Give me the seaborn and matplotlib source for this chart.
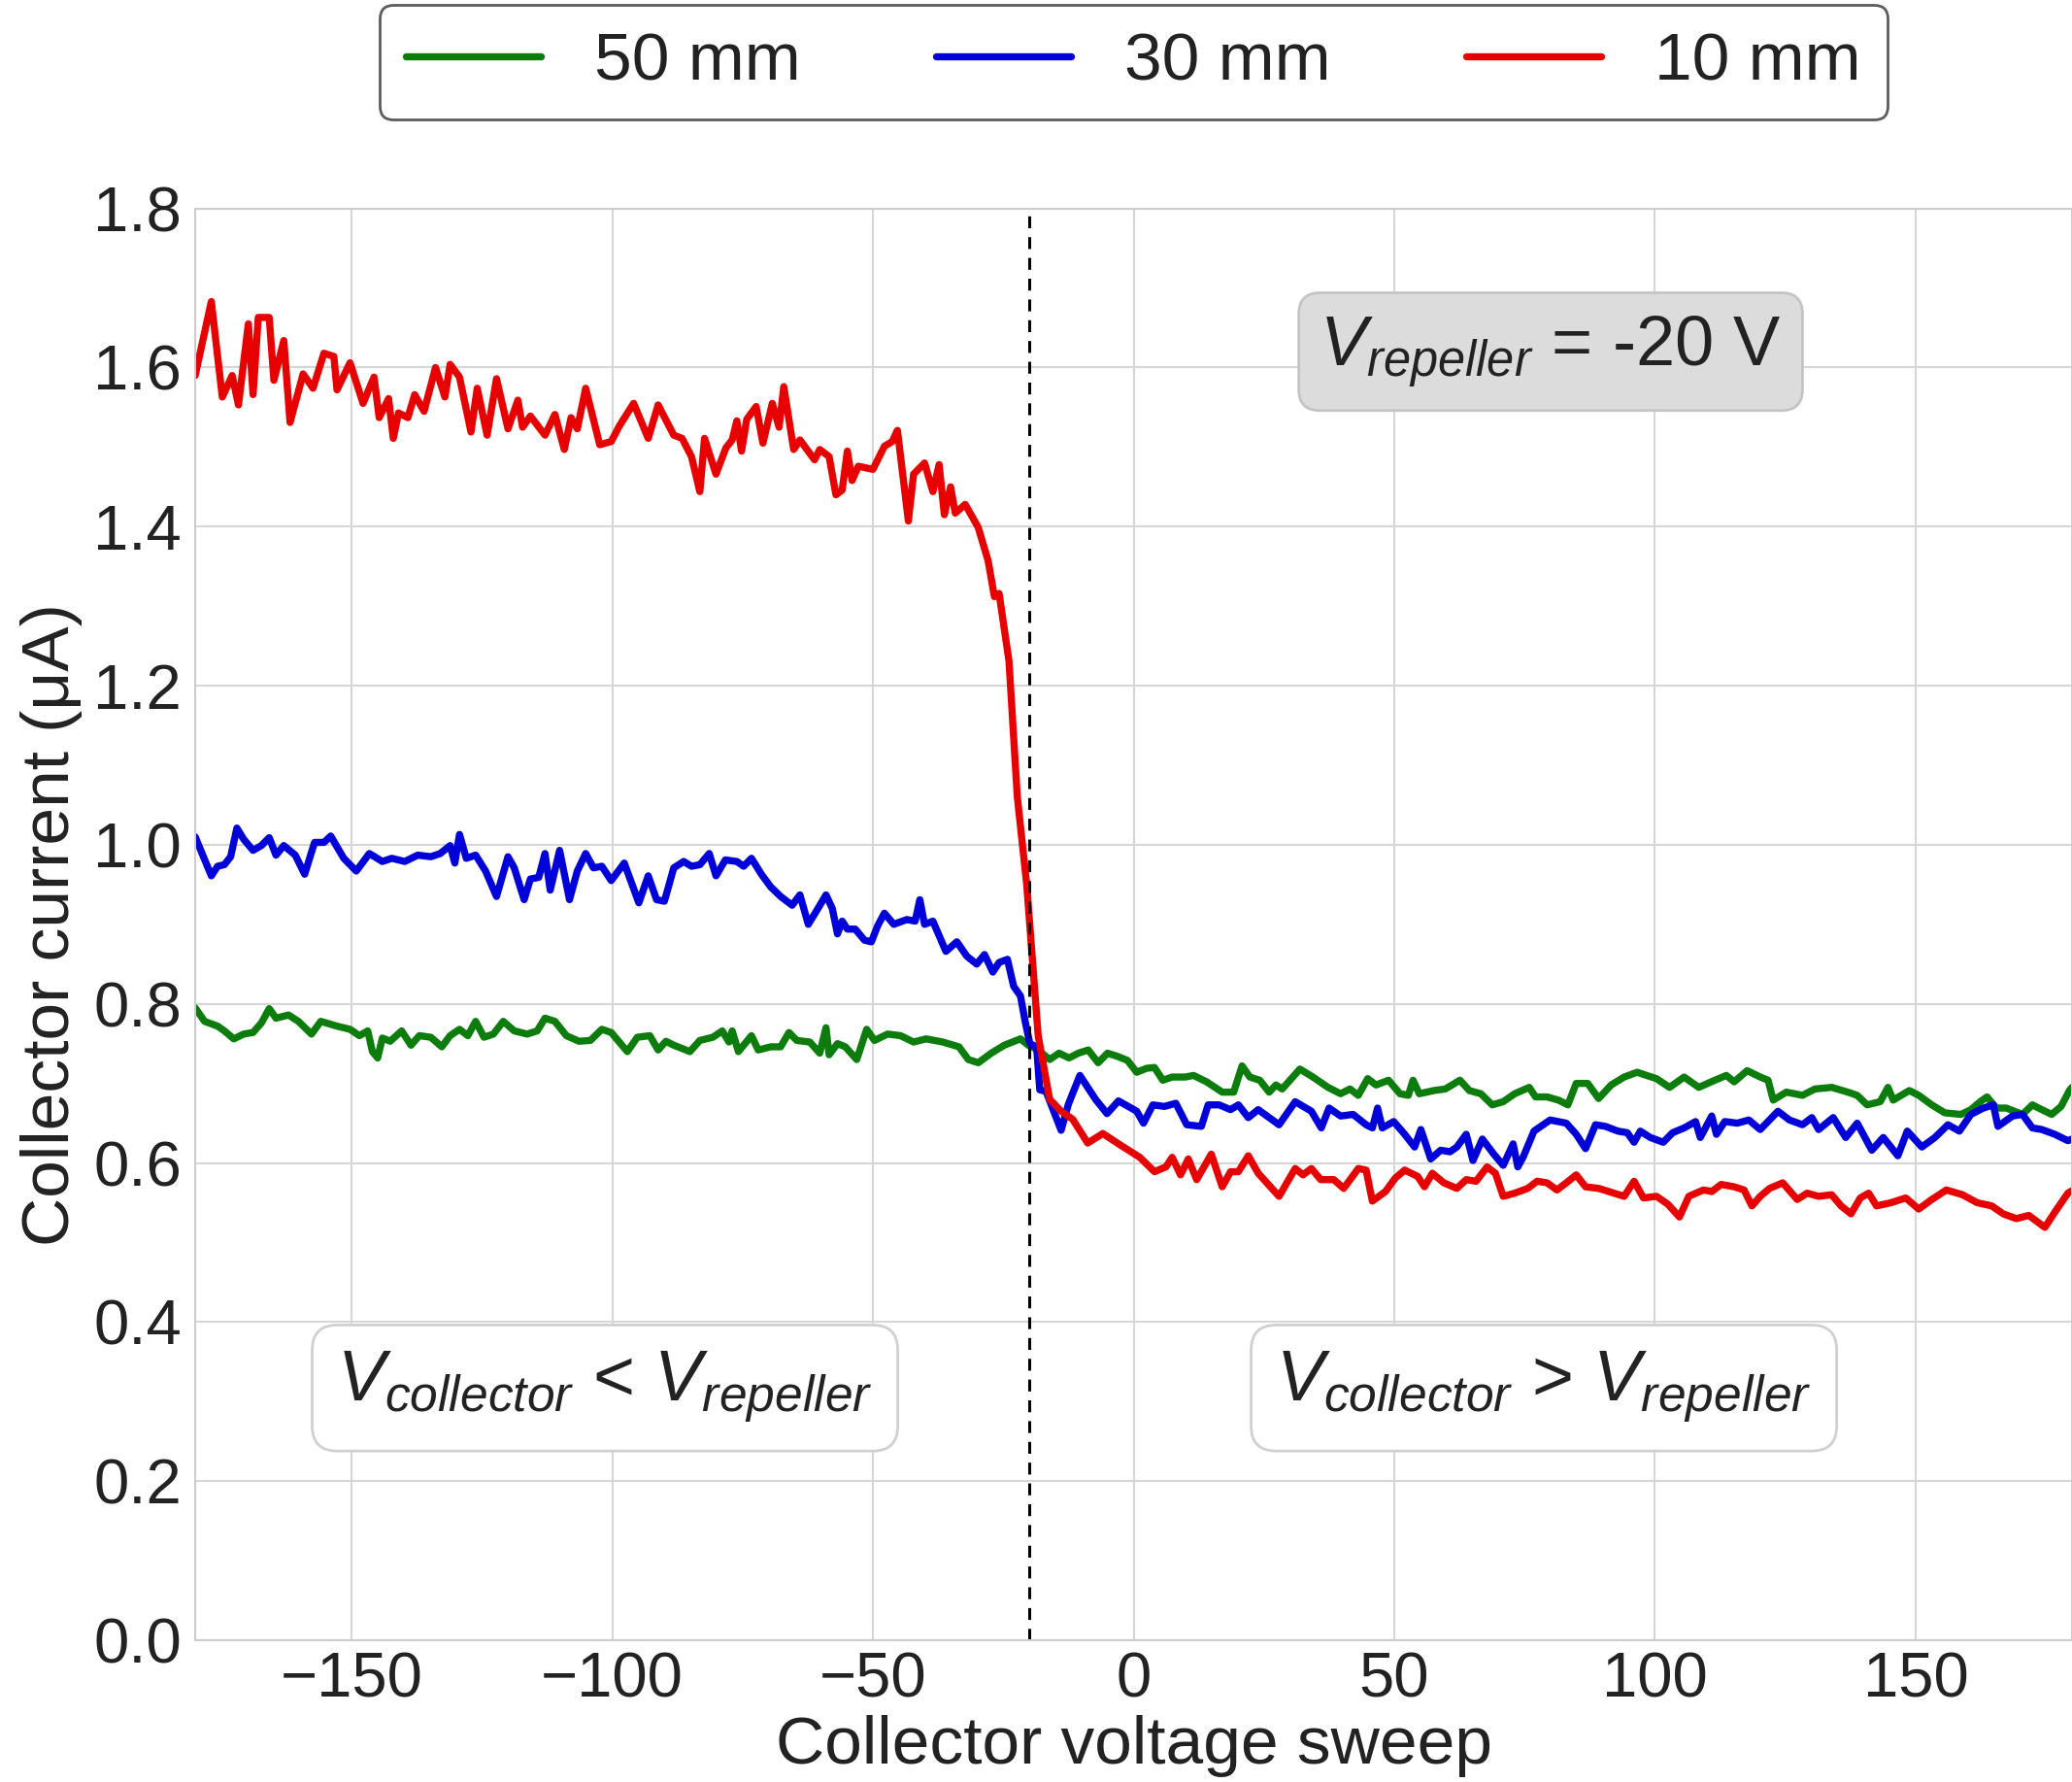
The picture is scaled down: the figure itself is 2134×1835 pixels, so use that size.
import matplotlib
matplotlib.use("Agg")
import matplotlib.pyplot as plt
import pandas as pd
import seaborn as sns


# red trace, 10 mm
x_10 = [-180, -176.9, -174.8, -172.9, -171.7, -169.8, -168.9, -167.9, -165.8, -164.9,
        -163.0, -161.8, -159.3, -157.4, -155.3, -153.4, -152.8, -150.3, -147.8, -145.7,
        -144.7, -142.9, -142.0, -141.0, -139.2, -137.9, -136.1, -133.9, -132.1, -131.1,
        -129.3, -127.1, -125.9, -124.0, -122.2, -120.0, -118.1, -117.2, -115.7, -112.9,
        -111.0, -109.2, -107.9, -106.7, -105.1, -102.4, -100.2, -98.6, -95.9, -93.1,
        -91.2, -88.2, -86.6, -84.8, -83.2, -82.3, -80.1, -78.2, -77.0, -76.1,
        -75.2, -74.2, -72.4, -71.1, -69.3, -68.0, -67.1, -65.2, -64.0, -61.2,
        -60.2, -58.4, -57.1, -55.9, -54.9, -54.0, -52.8, -50.0, -47.8, -46.3,
        -45.3, -43.2, -42.2, -40.1, -38.5, -37.3, -36.3, -35.1, -34.2, -32.3,
        -29.8, -27.9, -26.7, -25.8, -23.9, -22.3, -20.5, -18.3, -16.1, -13.9,
        -11.7, -8.8, -5.9, -2.9, 1.2, 4.0, 6.2, 7.4, 9.0, 10.5,
        12.1, 14.9, 17.0, 18.6, 20.1, 22.0, 23.9, 27.9, 31.0, 32.5,
        34.1, 35.9, 38.4, 40.3, 43.1, 44.6, 45.8, 48.3, 50.2, 52.0,
        54.5, 55.8, 57.3, 59.5, 62.0, 63.8, 65.7, 67.8, 69.4, 70.9,
        73.1, 75.6, 77.4, 79.3, 81.2, 83.0, 84.9, 86.7, 89.2, 94.1,
        96.0, 97.8, 100.3, 102.5, 104.7, 106.5, 109.3, 110.9, 112.7, 115.2,
        117.1, 118.6, 120.2, 122.0, 124.5, 127.3, 129.2, 131.4, 133.9, 135.7,
        137.6, 139.4, 141.0, 142.5, 145.3, 148.1, 150.6, 153.1, 155.9, 159.0,
        161.8, 164.6, 166.8, 169.3, 171.7, 174.8, 176.7, 179.2, 180]
y_10 = [1.590, 1.683, 1.563, 1.590, 1.553, 1.655, 1.566, 1.663, 1.663, 1.584,
        1.634, 1.531, 1.592, 1.574, 1.618, 1.614, 1.572, 1.606, 1.555, 1.588,
        1.537, 1.561, 1.511, 1.543, 1.537, 1.566, 1.545, 1.600, 1.563, 1.604,
        1.588, 1.519, 1.574, 1.515, 1.586, 1.523, 1.559, 1.525, 1.539, 1.515,
        1.541, 1.497, 1.537, 1.523, 1.574, 1.503, 1.507, 1.527, 1.555, 1.511,
        1.553, 1.515, 1.511, 1.488, 1.444, 1.511, 1.466, 1.499, 1.509, 1.533,
        1.495, 1.535, 1.551, 1.505, 1.555, 1.525, 1.576, 1.497, 1.509, 1.484,
        1.497, 1.488, 1.440, 1.446, 1.495, 1.458, 1.476, 1.472, 1.501, 1.507,
        1.521, 1.407, 1.466, 1.480, 1.444, 1.478, 1.415, 1.450, 1.417, 1.428,
        1.399, 1.357, 1.312, 1.316, 1.231, 1.060, 0.950, 0.760, 0.680, 0.665,
        0.655, 0.625, 0.637, 0.624, 0.607, 0.589, 0.595, 0.607, 0.585, 0.605,
        0.579, 0.611, 0.570, 0.589, 0.589, 0.609, 0.587, 0.558, 0.593, 0.585,
        0.593, 0.579, 0.579, 0.568, 0.593, 0.591, 0.552, 0.564, 0.581, 0.591,
        0.583, 0.570, 0.587, 0.575, 0.568, 0.579, 0.577, 0.595, 0.587, 0.558,
        0.562, 0.568, 0.577, 0.575, 0.566, 0.575, 0.585, 0.570, 0.568, 0.558,
        0.577, 0.556, 0.558, 0.548, 0.532, 0.558, 0.566, 0.564, 0.573, 0.570,
        0.566, 0.546, 0.558, 0.568, 0.575, 0.554, 0.562, 0.558, 0.560, 0.546,
        0.536, 0.556, 0.562, 0.546, 0.550, 0.556, 0.542, 0.554, 0.566, 0.560,
        0.550, 0.546, 0.536, 0.530, 0.534, 0.519, 0.538, 0.562, 0.565]

# blue trace, 30 mm
x_30 = [-180, -176.9, -175.7, -174.4, -173.2, -172.0, -170.7, -168.9, -167.3, -165.8,
        -164.5, -163.0, -160.8, -159.0, -157.1, -155.3, -154.0, -151.5, -149.1, -146.6,
        -144.1, -142.3, -139.8, -137.3, -134.8, -133.0, -131.1, -130.2, -129.3, -128.0,
        -126.2, -124.3, -122.2, -120.0, -118.8, -116.9, -115.7, -114.1, -112.9, -111.9,
        -110.1, -108.2, -106.7, -105.1, -103.6, -102.0, -100.2, -97.7, -94.9, -93.1,
        -91.5, -90.0, -88.2, -86.3, -84.8, -83.2, -81.4, -80.1, -78.3, -76.1,
        -74.8, -73.3, -71.4, -69.6, -67.7, -65.5, -64.0, -62.4, -60.9, -59.0,
        -57.8, -56.8, -55.9, -54.9, -53.4, -51.6, -50.3, -49.1, -47.8, -46.0,
        -43.5, -41.9, -41.0, -40.1, -38.5, -36.0, -33.9, -32.0, -30.1, -28.6,
        -27.0, -25.8, -24.2, -23.0, -21.7, -20.8, -19.9, -18.6, -18.0, -16.8,
        -13.9, -12.5, -10.3, -7.3, -5.1, -2.9, 0.6, 1.9, 3.7, 5.9,
        8.1, 10.2, 13.0, 14.3, 16.4, 18.6, 20.1, 22.0, 23.9, 27.9,
        31.0, 34.1, 36.0, 37.5, 39.7, 42.1, 44.6, 45.8, 46.8, 47.7,
        49.9, 52.0, 53.9, 55.1, 57.0, 58.9, 60.7, 62.0, 63.8, 65.1,
        66.9, 69.1, 70.9, 72.8, 73.7, 74.7, 76.8, 79.9, 83.0, 84.9,
        86.7, 88.6, 90.5, 92.9, 94.7, 96.0, 97.2, 99.1, 101.6, 103.4,
        105.6, 107.8, 108.7, 110.9, 111.8, 113.4, 115.8, 118.0, 120.2, 123.6,
        125.8, 128.3, 130.1, 131.4, 134.2, 136.6, 138.8, 141.6, 143.8, 146.6,
        148.4, 151.2, 153.7, 156.2, 158.4, 160.6, 163.0, 164.9, 165.8, 168.6,
        170.5, 172.4, 174.2, 176.7, 179.2, 180]
y_30 = [1.010, 0.961, 0.973, 0.975, 0.985, 1.021, 1.007, 0.993, 0.999, 1.009,
        0.987, 0.999, 0.987, 0.963, 1.003, 1.003, 1.011, 0.983, 0.967, 0.989,
        0.979, 0.983, 0.979, 0.987, 0.985, 0.989, 0.999, 0.977, 1.013, 0.983,
        0.987, 0.967, 0.935, 0.985, 0.971, 0.931, 0.957, 0.959, 0.989, 0.943,
        0.993, 0.931, 0.967, 0.989, 0.971, 0.973, 0.955, 0.977, 0.927, 0.961,
        0.931, 0.929, 0.971, 0.979, 0.973, 0.975, 0.989, 0.961, 0.981, 0.979,
        0.973, 0.983, 0.963, 0.947, 0.935, 0.924, 0.937, 0.900, 0.916, 0.937,
        0.920, 0.888, 0.904, 0.894, 0.894, 0.880, 0.878, 0.898, 0.914, 0.900,
        0.906, 0.904, 0.931, 0.900, 0.904, 0.866, 0.878, 0.860, 0.850, 0.862,
        0.840, 0.852, 0.856, 0.822, 0.810, 0.778, 0.750, 0.746, 0.692, 0.690,
        0.641, 0.674, 0.710, 0.680, 0.662, 0.678, 0.665, 0.650, 0.673, 0.671,
        0.675, 0.648, 0.646, 0.673, 0.673, 0.667, 0.673, 0.657, 0.667, 0.648,
        0.677, 0.665, 0.644, 0.669, 0.659, 0.661, 0.648, 0.644, 0.669, 0.644,
        0.652, 0.636, 0.620, 0.642, 0.605, 0.616, 0.614, 0.620, 0.636, 0.603,
        0.630, 0.611, 0.597, 0.624, 0.595, 0.607, 0.640, 0.654, 0.650, 0.636,
        0.618, 0.648, 0.646, 0.640, 0.638, 0.626, 0.640, 0.632, 0.626, 0.638,
        0.644, 0.652, 0.632, 0.659, 0.636, 0.652, 0.650, 0.654, 0.642, 0.665,
        0.654, 0.648, 0.657, 0.642, 0.657, 0.632, 0.650, 0.616, 0.632, 0.609,
        0.640, 0.620, 0.632, 0.648, 0.640, 0.661, 0.669, 0.673, 0.646, 0.659,
        0.661, 0.644, 0.642, 0.636, 0.628, 0.630]

# green trace, 50 mm
x_50 = [-180, -178.2, -175.7, -174.4, -172.6, -170.7, -168.9, -167.3, -165.8, -164.5,
        -162.1, -160.2, -157.7, -155.9, -152.8, -150.3, -148.5, -146.9, -146.0, -145.0,
        -144.1, -142.6, -140.4, -138.6, -137.0, -134.8, -132.7, -131.1, -129.3, -127.7,
        -126.2, -124.6, -122.8, -120.9, -118.8, -116.3, -114.4, -112.9, -111.0, -108.8,
        -106.4, -104.2, -102.0, -100.2, -97.1, -95.2, -92.8, -91.2, -89.7, -88.2,
        -85.1, -83.2, -80.7, -78.9, -77.6, -77.0, -75.8, -73.3, -72.0, -69.6,
        -67.7, -66.1, -64.6, -62.1, -60.2, -59.0, -58.4, -56.8, -55.3, -53.1,
        -51.2, -49.7, -47.2, -44.7, -42.2, -39.8, -36.6, -33.5, -31.7, -29.8,
        -27.3, -24.8, -21.7, -20.2, -18.3, -16.1, -14.3, -12.4, -10.6, -8.7,
        -6.8, -5.0, -3.1, -1.2, 0.6, 2.5, 4.0, 5.6, 7.4, 9.9,
        11.5, 14.0, 17.0, 19.2, 20.8, 22.3, 24.2, 26.0, 27.3, 28.5,
        31.9, 34.4, 37.3, 39.7, 41.5, 43.1, 44.9, 46.5, 48.9, 51.1,
        52.7, 53.6, 54.8, 57.6, 59.8, 62.6, 64.4, 66.6, 68.8, 70.9,
        73.1, 75.9, 77.1, 79.3, 81.5, 83.3, 84.9, 87.1, 89.2, 91.6,
        94.1, 96.6, 98.4, 100.3, 102.8, 105.6, 108.4, 111.5, 113.7, 115.2,
        117.7, 120.2, 121.7, 122.7, 125.2, 128.3, 130.7, 133.9, 137.0, 138.8,
        140.7, 143.2, 144.7, 145.7, 148.8, 150.6, 153.1, 155.6, 158.7, 160.6,
        162.4, 163.7, 165.5, 167.4, 170.5, 172.4, 174.2, 176.1, 177.9, 179.5,
        180]
y_50 = [0.795, 0.778, 0.772, 0.766, 0.756, 0.762, 0.764, 0.776, 0.794, 0.782,
        0.786, 0.778, 0.762, 0.778, 0.772, 0.768, 0.760, 0.766, 0.740, 0.732,
        0.757, 0.753, 0.766, 0.748, 0.760, 0.758, 0.746, 0.760, 0.768, 0.760,
        0.778, 0.758, 0.762, 0.778, 0.766, 0.762, 0.766, 0.782, 0.778, 0.760,
        0.753, 0.754, 0.768, 0.764, 0.740, 0.758, 0.760, 0.742, 0.753, 0.748,
        0.740, 0.754, 0.758, 0.766, 0.752, 0.766, 0.740, 0.760, 0.742, 0.746,
        0.746, 0.764, 0.754, 0.752, 0.738, 0.770, 0.736, 0.750, 0.746, 0.730,
        0.768, 0.754, 0.762, 0.760, 0.752, 0.756, 0.752, 0.746, 0.730, 0.726,
        0.738, 0.748, 0.756, 0.748, 0.742, 0.730, 0.738, 0.732, 0.738, 0.742,
        0.726, 0.738, 0.734, 0.729, 0.714, 0.719, 0.720, 0.704, 0.708, 0.708,
        0.710, 0.702, 0.689, 0.689, 0.722, 0.708, 0.704, 0.689, 0.698, 0.693,
        0.718, 0.708, 0.695, 0.687, 0.693, 0.685, 0.706, 0.698, 0.704, 0.687,
        0.685, 0.704, 0.687, 0.691, 0.693, 0.704, 0.691, 0.687, 0.673, 0.677,
        0.687, 0.695, 0.683, 0.683, 0.679, 0.673, 0.700, 0.700, 0.681, 0.698,
        0.708, 0.714, 0.710, 0.706, 0.695, 0.708, 0.695, 0.704, 0.710, 0.702,
        0.716, 0.708, 0.704, 0.679, 0.689, 0.685, 0.693, 0.695, 0.689, 0.685,
        0.673, 0.677, 0.695, 0.679, 0.691, 0.685, 0.673, 0.663, 0.661, 0.667,
        0.677, 0.683, 0.669, 0.669, 0.661, 0.673, 0.667, 0.661, 0.671, 0.691,
        0.695]

labels = ["50 mm", "30 mm", "10 mm"]
colors = {"50 mm": "#0c7c0c", "30 mm": "#0000d8", "10 mm": "#e60000"}

x_ticks = [-150, -100, -50, 0, 50, 100, 150]
y_ticks = [0.0, 0.2, 0.4, 0.6, 0.8, 1.0, 1.2, 1.4, 1.6, 1.8]

df = pd.concat([
    pd.DataFrame({"V": x_50, "I": y_50, "gap": "50 mm"}),
    pd.DataFrame({"V": x_30, "I": y_30, "gap": "30 mm"}),
    pd.DataFrame({"V": x_10, "I": y_10, "gap": "10 mm"}),
], ignore_index=True)

sns.set_style("whitegrid", {"grid.color": "#d6d6d6", "axes.edgecolor": "#cccccc"})
plt.rcParams["font.family"] = ["Liberation Sans", "DejaVu Sans"]
plt.rcParams["mathtext.fontset"] = "custom"
plt.rcParams["mathtext.rm"] = "Liberation Sans"
plt.rcParams["mathtext.it"] = "Liberation Sans:italic"

fig = plt.figure(figsize=(21.34, 18.35), dpi=100)
ax = fig.add_axes([0.0942, 0.0796, 0.9058, 0.8034])

sns.lineplot(data=df, x="V", y="I", hue="gap", hue_order=labels, palette=colors,
             estimator=None, sort=False, linewidth=5.3, ax=ax)
ax.axvline(-20, color="black", linestyle="--", linewidth=2.2, dashes=(4, 3))

ax.set_xlim(-180, 180)
ax.set_ylim(0, 1.8)
ax.set_xticks(x_ticks)
ax.set_yticks(y_ticks)
ax.set_yticklabels([f"{v:.1f}" for v in y_ticks])
ax.grid(True, linewidth=1.5)
ax.tick_params(direction="in", length=13, width=1.5, color="#333333",
               labelsize=47, labelcolor="#222222")
ax.tick_params(axis="y", pad=10)
ax.tick_params(axis="x", pad=8)
for s in ax.spines.values():
    s.set_linewidth(1.5)

ax.set_xlabel("Collector voltage sweep", fontsize=50, color="#222222", labelpad=4)
ax.set_ylabel("Collector current (μA)", fontsize=50, color="#222222", labelpad=8)

handles, labs = ax.get_legend_handles_labels()
leg = ax.legend(handles, labs, loc="lower center", bbox_to_anchor=(0.5, 1.062), ncol=3,
                fontsize=50, frameon=True, fancybox=True, edgecolor="#333333",
                handlelength=2.0, handletextpad=0.8, columnspacing=2.0,
                borderpad=0.39, borderaxespad=0)
leg.get_frame().set_linewidth(2)
for t in leg.get_texts():
    t.set_color("#222222")

ax.text(80, 1.62, r"$V_{repeller}$ = -20 V", fontsize=52, ha="center", va="center",
        color="#222222",
        bbox=dict(boxstyle="round,pad=0.3", fc="#dcdcdc", ec="#c4c4c4", lw=2))
ax.text(-101.4, 0.317, r"$V_{collector}$ < $V_{repeller}$", fontsize=53, ha="center",
        va="center", color="#222222",
        bbox=dict(boxstyle="round,pad=0.35", fc="white", ec="#d0d0d0", lw=2))
ax.text(78.7, 0.317, r"$V_{collector}$ > $V_{repeller}$", fontsize=53, ha="center",
        va="center", color="#222222",
        bbox=dict(boxstyle="round,pad=0.35", fc="white", ec="#d0d0d0", lw=2))

fig.savefig("out.png", dpi=100)
